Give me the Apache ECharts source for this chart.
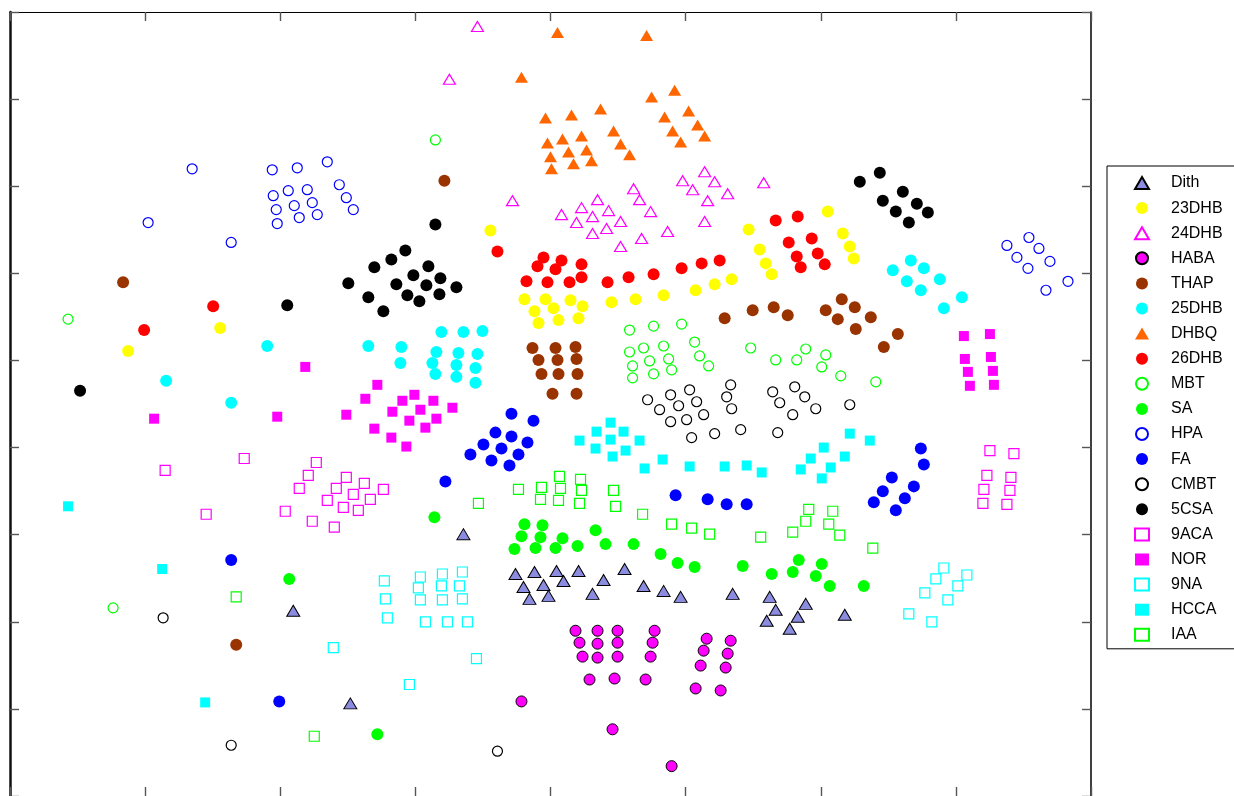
<!DOCTYPE html>
<html>
<head>
<meta charset="utf-8">
<script src="https://cdn.jsdelivr.net/npm/echarts@6/dist/echarts.min.js"></script>
<style>
html,body{margin:0;padding:0;background:#fff;}
#chart{width:1234px;height:796px;}
</style>
</head>
<body>
<div id="chart"></div>
<script>
// Axis ticks (unlabelled in the original)
const xTicks = [0, 135, 270, 405, 540, 675, 810, 945, 1080];
const yTicks = [0, 87.5, 175, 262.5, 350, 437.5, 525, 612.5, 700, 787.5];

const seriesNames = ['Dith','23DHB','24DHB','HABA','THAP','25DHB','DHBQ','26DHB','MBT','SA','HPA','FA','CMBT','5CSA','9ACA','NOR','9NA','HCCA','IAA'];

const dith = [[453,263],[505,223],[524,225],[546,226],[568,226],[513,210],[533,212],[553,216],[519,198],[538,201],[582,203],[593,217],[614,228],[633,211],[653,206],[670,200],[722,203],[759,200],[765,187],[795,193],[756,176],[787,180],[779,168],[834,182],[283,186],[340,93]];
const dhb23 = [[480,568],[514,499],[535,499],[560,498],[572,492],[524,487],[543,490],[528,475],[548,478],[568,480],[601,496],[625,499],[653,503],[685,508],[704,514],[721,519],[738,569],[749,549],[755,535],[761,524],[817,587],[832,565],[839,552],[843,540],[118,447],[210,470]];
const dhb24 = [[467,773],[439,720],[502,598],[551,584],[566,576],[571,591],[587,599],[582,582],[598,588],[582,565],[596,570],[610,577],[610,552],[623,610],[629,599],[640,587],[631,560],[657,567],[672,618],[682,609],[694,627],[704,617],[697,598],[694,577],[717,605],[753,616]];
const haba = [[565,166],[587,166],[607,166],[644,166],[569,154],[587,153],[607,154],[642,154],[572,140],[587,139],[607,140],[640,140],[579,117],[604,118],[635,117],[696,158],[693,146],[690,131],[685,108],[710,106],[720,156],[717,143],[715,129],[511,95],[602,67],[661,30]];
const thap = [[434,618],[113,516],[226,152],[522,450],[545,450],[565,451],[528,438],[547,438],[566,439],[531,424],[548,424],[567,424],[542,404],[566,404],[714,480],[742,488],[763,491],[777,483],[815,488],[831,499],[844,491],[827,479],[860,481],[845,469],[887,464],[873,451]];
const dhb25 = [[257,452],[156,417],[221,395],[358,452],[391,451],[390,435],[431,466],[453,466],[472,467],[426,446],[448,445],[467,444],[422,435],[446,433],[465,430],[425,424],[446,421],[465,415],[900,538],[882,528],[913,530],[896,517],[929,519],[910,508],[951,501],[933,490]];
const dhbq = [[547,767],[636,764],[511,722],[535,681],[561,684],[590,690],[641,702],[664,709],[654,682],[678,688],[687,674],[662,668],[670,657],[694,663],[603,668],[610,655],[619,644],[537,656],[552,660],[571,663],[558,647],[576,649],[540,642],[563,635],[581,638],[541,630]];
const dhb26 = [[134,468],[203,492],[487,547],[533,541],[551,538],[571,534],[527,532],[545,529],[516,517],[537,516],[559,516],[571,521],[597,516],[618,521],[643,524],[671,530],[691,535],[709,538],[765,578],[787,582],[778,556],[801,560],[786,542],[807,545],[790,531],[814,534]];
const mbt = [[425,659],[58,479],[103,189],[619,468],[643,472],[671,474],[619,446],[633,450],[653,452],[684,456],[622,432],[639,437],[658,439],[689,442],[622,420],[643,424],[661,428],[698,432],[740,450],[765,438],[786,438],[795,449],[815,443],[811,431],[830,422],[865,416]];
const sa = [[424,280],[279,218],[367,62],[514,273],[532,272],[511,261],[530,260],[552,259],[585,267],[504,248],[525,249],[545,249],[567,251],[595,253],[623,253],[650,243],[667,234],[684,230],[732,231],[761,223],[782,225],[788,237],[811,233],[805,221],[819,211],[853,211]];
const hpa = [[182,630],[138,576],[221,556],[262,629],[287,631],[317,637],[329,614],[336,601],[343,589],[278,608],[297,609],[263,603],[284,593],[302,596],[266,589],[289,581],[307,584],[267,575],[996,553],[1018,561],[1028,550],[1006,541],[1039,537],[1017,530],[1035,508],[1057,517]];
const fa = [[221,237],[269,95],[435,316],[501,384],[523,377],[485,365],[501,361],[517,355],[473,353],[491,349],[508,343],[460,343],[481,337],[499,332],[665,302],[697,298],[716,293],[736,293],[910,349],[913,333],[881,320],[903,311],[872,306],[894,299],[863,295],[885,287]];
const cmbt = [[153,179],[221,51],[487,45],[637,398],[660,403],[679,408],[649,388],[668,392],[686,396],[660,376],[676,378],[693,383],[681,360],[704,364],[720,413],[716,401],[721,389],[730,368],[762,406],[784,411],[794,401],[769,395],[805,389],[782,383],[767,365],[839,393]];
const csa5 = [[70,407],[277,493],[425,574],[338,515],[364,531],[381,539],[395,548],[403,523],[418,532],[430,520],[386,514],[416,513],[446,511],[358,501],[397,503],[429,504],[409,497],[373,487],[849,617],[869,626],[892,607],[872,598],[906,595],[885,587],[917,586],[898,576]];
const aca9 = [[155,327],[234,339],[196,283],[306,335],[298,322],[289,309],[336,320],[354,314],[326,309],[343,303],[373,308],[317,297],[333,290],[348,287],[360,298],[275,286],[302,276],[324,270],[979,347],[1003,344],[976,322],[1000,320],[973,308],[999,307],[972,294],[996,293]];
const nor = [[295,431],[144,379],[267,381],[336,383],[355,399],[367,413],[404,403],[392,397],[423,397],[382,386],[410,388],[442,390],[399,377],[426,379],[364,369],[415,370],[381,360],[396,351],[953,462],[979,464],[954,439],[980,441],[957,426],[982,427],[959,412],[983,413]];
const na9 = [[323,149],[374,216],[410,220],[432,223],[452,225],[408,209],[431,211],[449,211],[375,198],[410,197],[432,197],[452,198],[377,179],[415,175],[437,175],[457,175],[466,138],[399,112],[933,229],[956,222],[925,218],[947,211],[914,204],[937,197],[898,183],[921,175]];
const hcca = [[58,291],[152,228],[195,94],[600,375],[586,366],[613,366],[569,357],[600,358],[629,357],[585,349],[615,347],[602,341],[652,338],[634,329],[679,331],[714,331],[736,332],[751,325],[839,364],[859,357],[813,350],[800,339],[834,341],[790,328],[820,330],[811,319]];
const iaa = [[226,200],[304,60],[468,294],[508,308],[531,310],[549,321],[550,309],[570,318],[571,307],[530,298],[548,297],[569,294],[603,307],[605,291],[632,283],[661,273],[681,269],[699,263],[750,260],[782,265],[795,276],[818,273],[829,262],[862,249],[798,288],[822,286]];

const seriesData = [dith,dhb23,dhb24,haba,thap,dhb25,dhbq,dhb26,mbt,sa,hpa,fa,cmbt,csa5,aca9,nor,na9,hcca,iaa];

// marker styles: [symbol, size, fill, stroke, strokeWidth]
const styles = [
  ['triangle',[13,11],'#8b8be0','#000',1],
  ['circle',12,'#ffff00',null,0],
  ['triangle',[12,10],'rgba(255,255,255,0)','#ff00ff',1.2],
  ['circle',11,'#ff00ff','#000',1],
  ['circle',12,'#993300',null,0],
  ['circle',12,'#00ffff',null,0],
  ['triangle',[13,11],'#ff6600',null,0],
  ['circle',12,'#ff0000',null,0],
  ['circle',10,'rgba(255,255,255,0)','#00ff00',1.2],
  ['circle',12,'#00ff00',null,0],
  ['circle',10,'rgba(255,255,255,0)','#0000ff',1.2],
  ['circle',12,'#0000ff',null,0],
  ['circle',10,'rgba(255,255,255,0)','#000000',1.2],
  ['circle',12,'#000000',null,0],
  ['rect',10,'rgba(255,255,255,0)','#ff00ff',1.2],
  ['rect',10,'#ff00ff',null,0],
  ['rect',10,'rgba(255,255,255,0)','#00ffff',1.2],
  ['rect',10,'#00ffff',null,0],
  ['rect',10,'rgba(255,255,255,0)','#00ff00',1.2]
];

const series = seriesNames.map((name, i) => {
  const st = styles[i];
  const itemStyle = { color: st[2], opacity: 1 };
  if (st[3]) { itemStyle.borderColor = st[3]; itemStyle.borderWidth = st[4]; }
  return {
    name: name,
    type: 'scatter',
    symbol: st[0],
    symbolSize: st[1],
    data: seriesData[i],
    itemStyle: itemStyle,
    emphasis: { disabled: true }
  };
});

const axisCommon = {
  type: 'value',
  axisLabel: { show: false },
  splitLine: { show: false },
  axisTick: { show: true, inside: true, length: 9, lineStyle: { color: '#555', width: 1.4 } }
};

const chart = echarts.init(document.getElementById('chart'), null, { renderer: 'canvas' });
chart.setOption({
  backgroundColor: '#fff',
  animation: false,
  grid: { left: 10, top: 12, width: 1081, height: 788 },
  xAxis: [
    Object.assign({}, axisCommon, { position: 'bottom', min: xTicks[0], max: xTicks[xTicks.length-1], interval: xTicks[1]-xTicks[0],
      axisLine: { show: true, onZero: false, lineStyle: { color: '#000', width: 1.2 } } }),
    Object.assign({}, axisCommon, { position: 'top', min: xTicks[0], max: xTicks[xTicks.length-1], interval: xTicks[1]-xTicks[0],
      axisLine: { show: true, onZero: false, lineStyle: { color: '#000', width: 1.2 } } })
  ],
  yAxis: [
    Object.assign({}, axisCommon, { position: 'left', min: yTicks[0], max: yTicks[yTicks.length-1], interval: yTicks[1]-yTicks[0],
      axisLine: { show: true, onZero: false, lineStyle: { color: '#111', width: 2.5 } } }),
    Object.assign({}, axisCommon, { position: 'right', min: yTicks[0], max: yTicks[yTicks.length-1], interval: yTicks[1]-yTicks[0],
      axisLine: { show: true, onZero: false, lineStyle: { color: '#000', width: 1.5 } } })
  ],
  legend: {
    orient: 'vertical',
    left: 1107,
    top: 166,
    padding: [9, 40, 6, 27],
    itemWidth: 14,
    itemHeight: 12,
    itemGap: 9.1,
    borderColor: '#000',
    borderWidth: 1,
    backgroundColor: '#fff',
    selectedMode: false,
    textStyle: { fontFamily: 'Liberation Sans, Arial, sans-serif', fontSize: 16, color: '#000', lineHeight: 16, padding: [0, 0, 0, 17] },
    data: seriesNames
  },
  series: series
});
</script>
</body>
</html>
